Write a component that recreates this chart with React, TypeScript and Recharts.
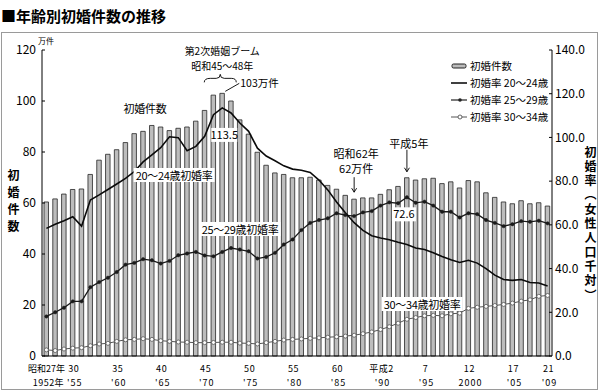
import React from "react"
import { ComposedChart, Bar, Line, XAxis, YAxis, ReferenceDot } from "recharts"

// 1952 (昭和27) – 2009 (平成21)
const years = [
  1952, 1953, 1954, 1955, 1956, 1957, 1958, 1959, 1960, 1961,
  1962, 1963, 1964, 1965, 1966, 1967, 1968, 1969, 1970, 1971,
  1972, 1973, 1974, 1975, 1976, 1977, 1978, 1979, 1980, 1981,
  1982, 1983, 1984, 1985, 1986, 1987, 1988, 1989, 1990, 1991,
  1992, 1993, 1994, 1995, 1996, 1997, 1998, 1999, 2000, 2001,
  2002, 2003, 2004, 2005, 2006, 2007, 2008, 2009,
]

// 初婚件数 (万件)
const firstMarriages = [
  60.4, 61.6, 63.5, 65.3, 65.5, 71.2, 76.8, 79.1, 80.9, 83.7,
  87.2, 88.1, 90.4, 89.8, 88.4, 89.3, 89.8, 92.1, 96.3, 102.3,
  103.0, 100.0, 92.6, 87.0, 79.9, 74.8, 71.8, 71.2, 69.9, 69.9,
  70.1, 69.0, 66.9, 65.4, 63.0, 61.5, 62.0, 62.0, 63.4, 65.2,
  66.5, 69.9, 69.0, 69.5, 69.7, 67.6, 68.3, 65.9, 68.8, 68.3,
  64.0, 62.2, 60.4, 59.7, 60.9, 59.7, 60.1, 58.8,
]

// 初婚率 (女性人口千対)
const rate2024 = [
  58.4, 60.3, 61.9, 63.7, 59.4, 71.4, 73.7, 76.2, 78.7, 81.3,
  84.4, 88.8, 92.0, 95.3, 100.3, 99.9, 93.9, 95.9, 100.5, 110.4,
  113.5, 111.2, 106.6, 102.8, 95.1, 91.5, 89.3, 87.0, 85.5, 85.0,
  84.0, 80.5, 76.0, 70.5, 65.5, 61.0, 57.5, 55.0, 54.0, 53.2,
  52.0, 51.0, 49.4, 48.7, 47.2, 45.5, 44.0, 42.8, 43.8, 42.5,
  40.0, 37.0, 35.0, 34.6, 35.0, 33.6, 33.4, 32.0,
]
const rate2529 = [
  18.1, 20.0, 22.1, 25.0, 25.0, 31.5, 33.8, 35.8, 38.4, 41.8,
  42.6, 44.3, 43.8, 42.3, 43.5, 46.1, 46.9, 47.6, 46.0, 45.6,
  47.6, 49.4, 48.7, 47.9, 44.6, 45.3, 47.2, 51.0, 53.3, 57.6,
  60.9, 62.2, 63.0, 65.3, 64.5, 64.0, 65.7, 66.3, 68.8, 70.3,
  69.9, 72.6, 70.1, 70.6, 68.8, 66.0, 66.0, 63.4, 65.3, 64.9,
  62.2, 60.9, 59.4, 60.3, 61.7, 61.4, 61.9, 60.7,
]
const rate3034 = [
  2.8, 2.5, 3.2, 3.6, 3.8, 4.7, 5.5, 5.8, 6.7, 7.4,
  7.6, 7.9, 7.6, 7.0, 6.7, 6.4, 6.3, 6.1, 6.1, 6.2,
  6.3, 6.3, 5.9, 5.8, 5.5, 6.1, 6.7, 7.3, 7.6, 7.8,
  8.1, 8.3, 8.6, 8.8, 9.1, 9.5, 10.2, 11.0, 12.1, 13.4,
  15.0, 16.8, 17.6, 18.4, 18.6, 18.4, 19.3, 19.6, 21.8, 22.3,
  22.7, 23.1, 23.6, 24.2, 25.1, 25.7, 27.3, 27.7,
]

const leftTicks = [0, 20, 40, 60, 80, 100, 120]
const rightTicks = [0, 20, 40, 60, 80, 100, 120, 140]

// x axis labels: [year, 和暦, 西暦]
const xLabels: Array<[number, string, string]> = [
  [1952, "昭和27年", "1952年"],
  [1955, "30", "'55"],
  [1960, "35", "'60"],
  [1965, "40", "'65"],
  [1970, "45", "'70"],
  [1975, "50", "'75"],
  [1980, "55", "'80"],
  [1985, "60", "'85"],
  [1990, "平成2", "'90"],
  [1995, "7", "'95"],
  [2000, "12", "2000"],
  [2005, "17", "'05"],
  [2009, "21", "'09"],
]

const data = years.map((year, i) => ({
  year,
  count: firstMarriages[i],
  r2024: rate2024[i],
  r2529: rate2529[i],
  r3034: rate3034[i],
}))

const at = (arr: number[], y: number) => arr[years.indexOf(y)]

const FONT = "'Noto Sans CJK JP', 'Noto Sans', sans-serif"

const LeftTick = (p: any) => (
  <g>
    <line x1={p.x + 5} x2={p.x + 8} y1={p.y} y2={p.y} stroke="#000" strokeWidth={1} />
    <text x={p.x - 1} y={p.y} dy="0.34em" textAnchor="end" fontSize={12} fill="#000" fontFamily={FONT}>
      {p.payload.value}
    </text>
  </g>
)

const RightTick = (p: any) => (
  <g>
    <line x1={p.x - 6} x2={p.x - 3} y1={p.y} y2={p.y} stroke="#000" strokeWidth={1} />
    <text x={p.x} y={p.y} dy="0.36em" textAnchor="start" fontSize={12} fill="#000" fontFamily={FONT}>
      {p.payload.value.toFixed(1)}
    </text>
  </g>
)

// two-row label (和暦 over 西暦)
const BottomTick = (p: any) => {
  const item = xLabels.find((l) => l[0] === p.payload.value)
  if (!item) return <g />
  const first = item[0] === 1952
  return (
    <text fontFamily={FONT} fontSize={9} fill="#000" textAnchor="middle">
      <tspan x={p.x + (first ? 0 : 1)} y={p.y + 16.3} letterSpacing={first ? 0 : 0.6}>
        {item[1]}
      </tspan>
      <tspan x={p.x + 2} y={p.y + 29.7} letterSpacing={first ? 0.5 : 1}>
        {item[2]}
      </tspan>
    </text>
  )
}

const center = (vb: any) => ({ cx: vb.x + (vb.width || 0) / 2, cy: vb.y + (vb.height || 0) / 2 })

const BoomLabel = (props: any) => {
  const { cx, cy } = center(props.viewBox)
  const by = cy - 11
  return (
    <g fontFamily={FONT} fill="#000">
      <text x={cx} y={cy - 41.5} dy="0.35em" textAnchor="middle" fontSize={10}>第2次婚姻ブーム</text>
      <text x={cx} y={cy - 27} dy="0.35em" textAnchor="middle" fontSize={10}>昭和45～48年</text>
      <path
        d={`M${cx - 18},${by} Q${cx - 18},${by - 4} ${cx - 12},${by - 4} L${cx - 6},${by - 4} Q${cx - 2},${by - 4} ${cx - 2},${by - 8} Q${cx - 2},${by - 4} ${cx + 2},${by - 4} L${cx + 9},${by - 4} Q${cx + 14},${by - 4} ${cx + 14},${by}`}
        fill="none"
        stroke="#000"
        strokeWidth={0.9}
      />
      <line x1={cx + 3} y1={cy - 2} x2={cx + 17} y2={cy - 10} stroke="#000" strokeWidth={0.9} />
      <text x={cx + 18} y={cy - 10} dy="0.35em" textAnchor="start" fontSize={10.5}>103万件</text>
    </g>
  )
}

const ArrowNote = (lines: string[], textGap: number, top: number, bottom: number) => (props: any) => {
  const { cx, cy } = center(props.viewBox)
  const tip = cy - bottom
  return (
    <g fontFamily={FONT} fill="#000">
      {lines.map((t, i) => (
        <text key={t} x={cx + 2} y={cy - textGap + i * 15} dy="0.35em" textAnchor="middle" fontSize={11}>
          {t}
        </text>
      ))}
      <line x1={cx} x2={cx} y1={cy - top} y2={tip} stroke="#000" strokeWidth={0.9} />
      <path d={`M${cx - 2.5},${tip - 4} L${cx},${tip} L${cx + 2.5},${tip - 4}`} fill="none" stroke="#000" strokeWidth={0.9} />
    </g>
  )
}

const ValueBox = (text: string, dx: number, dy: number, w: number) => (props: any) => {
  const { cx, cy } = center(props.viewBox)
  return (
    <g fontFamily={FONT}>
      <rect x={cx + dx - w / 2} y={cy + dy - 7} width={w} height={14} fill="#fff" />
      <text x={cx + dx} y={cy + dy} dy="0.35em" textAnchor="middle" fontSize={11} fill="#000">
        {text}
      </text>
    </g>
  )
}

const seriesLabel = (text: string, x: number, y: number, bg = true) => (
  <div
    style={{
      position: "absolute",
      left: x,
      top: y,
      transform: "translate(-50%, -50%)",
      background: bg ? "#fff" : "transparent",
      padding: "0 2px",
      fontSize: 11,
      lineHeight: "14px",
      whiteSpace: "nowrap",
      letterSpacing: -0.3,
    }}
  >
    {text}
  </div>
)

const legendItems = [
  { name: "初婚件数", kind: "bar" },
  { name: "初婚率 20～24歳", kind: "line" },
  { name: "初婚率 25～29歳", kind: "dot" },
  { name: "初婚率 30～34歳", kind: "hollow" },
]

const LegendIcon = ({ kind }: { kind: string }) => (
  <svg width={16} height={10} style={{ display: "block" }}>
    {kind === "bar" && <rect x={1} y={3} width={14} height={4} rx={1.5} fill="#bbb" stroke="#222" strokeWidth={1} />}
    {kind === "line" && <line x1={0} x2={16} y1={5} y2={5} stroke="#111" strokeWidth={1.6} />}
    {kind === "dot" && (
      <>
        <line x1={0} x2={16} y1={5} y2={5} stroke="#222" strokeWidth={1.2} />
        <circle cx={9} cy={5} r={1.8} fill="#222" />
      </>
    )}
    {kind === "hollow" && (
      <>
        <line x1={0} x2={16} y1={5} y2={5} stroke="#555" strokeWidth={1} />
        <circle cx={9} cy={5} r={2} fill="#fff" stroke="#555" strokeWidth={0.9} />
      </>
    )}
  </svg>
)

export default function App() {
  return (
    <div
      style={{
        position: "absolute",
        left: 0,
        top: 0,
        width: 600,
        height: 392,
        background: "#fff",
        fontFamily: FONT,
        color: "#000",
      }}
    >
      <div style={{ position: "absolute", left: 1, top: 6, fontSize: 15, fontWeight: 700, lineHeight: "20px", whiteSpace: "nowrap" }}>
        ■年齢別初婚件数の推移
      </div>
      <div
        style={{
          position: "absolute",
          left: 1,
          top: 32,
          width: 597,
          height: 358,
          boxSizing: "border-box",
          border: "1px solid #9a9a9a",
        }}
      />

      <div style={{ position: "absolute", left: 0, top: 0 }}>
        <ComposedChart width={600} height={392} data={data} margin={{ top: 50, right: 1, bottom: 6, left: 8 }}>
          <XAxis
            dataKey="year"
            interval={0}
            tickLine={false}
            tickSize={0}
            tickMargin={0}
            height={30}
            axisLine={{ stroke: "#000", strokeWidth: 1 }}
            tick={<BottomTick />}
          />
          <YAxis
            yAxisId="left"
            domain={[0, 120]}
            ticks={leftTicks}
            width={34}
            tickSize={0}
            tickMargin={5}
            tickLine={false}
            axisLine={{ stroke: "#000", strokeWidth: 1 }}
            tick={<LeftTick />}
          />
          <YAxis
            yAxisId="right"
            orientation="right"
            domain={[0, 140]}
            ticks={rightTicks}
            width={47}
            tickSize={0}
            tickMargin={3}
            tickLine={false}
            axisLine={{ stroke: "#000", strokeWidth: 1 }}
            tick={<RightTick />}
          />
          <Bar yAxisId="left" dataKey="count" barSize={4.5} fill="#bdbdbd" stroke="#262626" strokeWidth={0.8} isAnimationActive={false} />
          <Line
            yAxisId="right"
            type="linear"
            dataKey="r3034"
            stroke="#555"
            strokeWidth={1}
            dot={{ r: 2, fill: "#fff", stroke: "#555", strokeWidth: 0.8 }}
            isAnimationActive={false}
          />
          <Line
            yAxisId="right"
            type="linear"
            dataKey="r2529"
            stroke="#1a1a1a"
            strokeWidth={1.3}
            dot={{ r: 1.7, fill: "#1a1a1a", stroke: "#1a1a1a", strokeWidth: 0.5 }}
            isAnimationActive={false}
          />
          <Line
            yAxisId="right"
            type="linear"
            dataKey="r2024"
            stroke="#0a0a0a"
            strokeWidth={1.6}
            dot={false}
            isAnimationActive={false}
          />
          <ReferenceDot yAxisId="left" x={1972} y={at(firstMarriages, 1972)} r={0} fill="none" stroke="none" ifOverflow="visible" label={BoomLabel} />
          <ReferenceDot yAxisId="left" x={1987} y={at(firstMarriages, 1987)} r={0} fill="none" stroke="none" ifOverflow="visible" label={ArrowNote(["昭和62年", "62万件"], 45, 22, 7)} />
          <ReferenceDot yAxisId="left" x={1993} y={at(firstMarriages, 1993)} r={0} fill="none" stroke="none" ifOverflow="visible" label={ArrowNote(["平成5年"], 34, 28, 6)} />
          <ReferenceDot yAxisId="right" x={1972} y={at(rate2024, 1972)} r={0} fill="none" stroke="none" ifOverflow="visible" label={ValueBox("113.5", 2, 27, 26)} />
          <ReferenceDot yAxisId="right" x={1993} y={at(rate2529, 1993)} r={0} fill="none" stroke="none" ifOverflow="visible" label={ValueBox("72.6", -3, 17, 24)} />
        </ComposedChart>
      </div>

      {seriesLabel("初婚件数", 145, 108, false)}
      {seriesLabel("20～24歳初婚率", 174, 175)}
      {seriesLabel("25～29歳初婚率", 240, 229)}
      {seriesLabel("30～34歳初婚率", 422, 304)}

      <div style={{ position: "absolute", left: 38, top: 36, fontSize: 8, lineHeight: "10px" }}>万件</div>
      <div
        style={{
          position: "absolute",
          left: 5,
          top: 169,
          writingMode: "vertical-rl",
          fontSize: 12,
          fontWeight: 700,
          letterSpacing: 5,
          lineHeight: "16px",
        }}
      >
        初婚件数
      </div>
      <div
        style={{
          position: "absolute",
          left: 582,
          top: 146,
          writingMode: "vertical-rl",
          fontSize: 12,
          fontWeight: 700,
          letterSpacing: 2.3,
          lineHeight: "16px",
        }}
      >
        初婚率（女性人口千対）
      </div>

      <div style={{ position: "absolute", left: 451, top: 57 }}>
        {legendItems.map((it) => (
          <div key={it.name} style={{ display: "flex", alignItems: "center", height: 17, fontSize: 10.5, whiteSpace: "nowrap" }}>
            <LegendIcon kind={it.kind} />
            <span style={{ marginLeft: 3 }}>{it.name}</span>
          </div>
        ))}
      </div>
    </div>
  )
}
